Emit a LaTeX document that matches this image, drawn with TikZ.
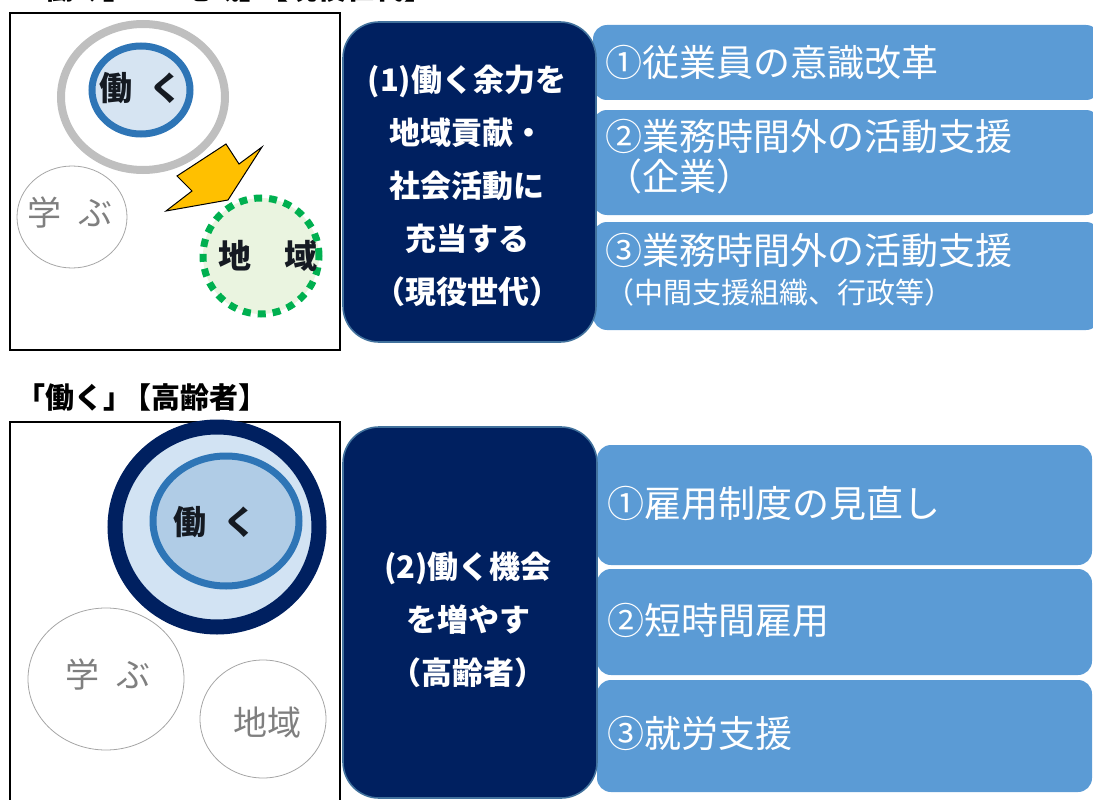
\documentclass[tikz,border=0pt]{standalone}
\usepackage{fontspec}
\setmainfont{Noto Sans CJK JP}
\usetikzlibrary{shapes.geometric}

\definecolor{navy}{HTML}{002060}
\definecolor{boxblue}{HTML}{5B9BD5}
\definecolor{ringblue}{HTML}{2E75B6}
\definecolor{edgeblue}{HTML}{41719C}
\definecolor{paleblue}{HTML}{D6E4F2}
\definecolor{lightblue}{HTML}{D2E3F3}
\definecolor{midblue}{HTML}{B0CCE6}
\definecolor{ringgray}{HTML}{BFBFBF}
\definecolor{palegreen}{HTML}{EAF4E0}
\definecolor{dashgreen}{HTML}{00B050}
\definecolor{arrowgold}{HTML}{FFC000}
\definecolor{softgray}{HTML}{7F7F7F}
\definecolor{inkdark}{HTML}{151A22}

\tikzset{
  frame/.style={draw=black, line width=1.6pt},
  heading/.style={font=\bfseries\fontsize{29}{30}\selectfont, inner sep=0pt},
  bigbox/.style={draw=edgeblue, line width=1.6pt, fill=navy, rounded corners=36pt},
  bigtext/.style={text=white, align=center, font=\bfseries\fontsize{31}{53}\selectfont},
  itembox/.style={fill=boxblue, rounded corners=14pt},
  itemtext/.style={text=white, anchor=west, inner sep=0pt, align=left,
    font=\fontsize{37}{40}\selectfont},
  faint/.style={ellipse, draw=softgray!70, line width=0.8pt, inner sep=0pt},
  fainttext/.style={text=softgray, font=\fontsize{34}{34}\selectfont},
  hottext/.style={text=inkdark, font=\bfseries\fontsize{33}{33}\selectfont},
}

\begin{document}
\begin{tikzpicture}[x=1pt, y=-1pt]
\useasboundingbox (0,0) rectangle (1093,800);

% upper half: working generation
\node [heading, anchor=base west] (title1) at (16,0) {「働く」\kern-0.3em→「地域」\kern-0.3em【現役世代】};
\draw [frame] (10,13) rectangle (340,350);
\node [ellipse, draw=ringgray, line width=8pt, minimum width=164, minimum height=146] (ring1) at (143,97) {};
\node [ellipse, draw=ringblue, line width=7pt, fill=paleblue, minimum width=98, minimum height=88] (work1) at (141,90) {};
\node [hottext] (work1t) at (141,88) {働\hspace{0.5em}く};
\node [faint, minimum width=110, minimum height=102] (learn1) at (72,217) {};
\node [fainttext] (learn1t) at (70,213) {学\hspace{0.5em}ぶ};
\draw [fill=arrowgold, line width=1pt, line join=miter] (166,211) -- (228,200) -- (262,147) -- (239,164)
  -- (226,144) -- (177,176) -- (192,191) -- cycle;
\node [circle, draw=dashgreen, fill=palegreen, line width=7pt, dash pattern=on 8pt off 7pt,
  minimum size=116] (area1) at (261,256) {};
\node [hottext] (area1t) at (268,256) {地\hspace{1em}域};

\path [itembox] (593,25) rectangle (1100,100);
\path [itembox] (593,110) rectangle (1100,215);
\path [itembox] (593,222) rectangle (1100,330);
\node [bigbox, minimum width=253, minimum height=320] (plan1) at (469.5,182) {};
\node [bigtext] (plan1t) at (467,186) {(1)働く余力を\\地域貢献・\\社会活動に\\充当する\\（現役世代）};
\node [itemtext] (item11) at (605,62) {①従業員の意識改革};
\node [itemtext] (item12) at (605,157) {②業務時間外の活動支援\\（企業）};
\node [itemtext] (item13) at (605,250) {③業務時間外の活動支援};
\node [itemtext, font=\fontsize{29}{30}\selectfont] (item13s) at (605,292) {（中間支援組織、行政等）};

% lower half: elderly
\node [heading, anchor=west] (title2) at (16,398) {「働く」\kern-0.35em【高齢者】};
\draw [frame] (10,422) rectangle (340,812);
\node [ellipse, draw=navy, fill=lightblue, line width=15pt, minimum width=204, minimum height=200] (ring2) at (217,527) {};
\node [ellipse, draw=ringblue, fill=midblue, line width=7pt, minimum width=146, minimum height=130] (work2) at (226,521) {};
\node [hottext] (work2t) at (215,522) {働\hspace{0.5em}く};
\node [faint, minimum width=156, minimum height=142] (learn2) at (106,679) {};
\node [fainttext] (learn2t) at (108,675) {学\hspace{0.5em}ぶ};
\node [faint, minimum width=126, minimum height=118] (area2) at (263,719) {};
\node [fainttext] (area2t) at (267,723) {地域};

\path [itembox] (597,445) rectangle (1092,565);
\path [itembox] (597,569) rectangle (1092,675);
\path [itembox] (597,680) rectangle (1092,792);
\node [bigbox, minimum width=254, minimum height=371] (plan2) at (470,612.5) {};
\node [bigtext] (plan2t) at (468,620) {(2)働く機会\\を増やす\\（高齢者）};
\node [itemtext] (item21) at (607,503) {①雇用制度の見直し};
\node [itemtext] (item22) at (607,620) {②短時間雇用};
\node [itemtext] (item23) at (607,733) {③就労支援};
\end{tikzpicture}
\end{document}
